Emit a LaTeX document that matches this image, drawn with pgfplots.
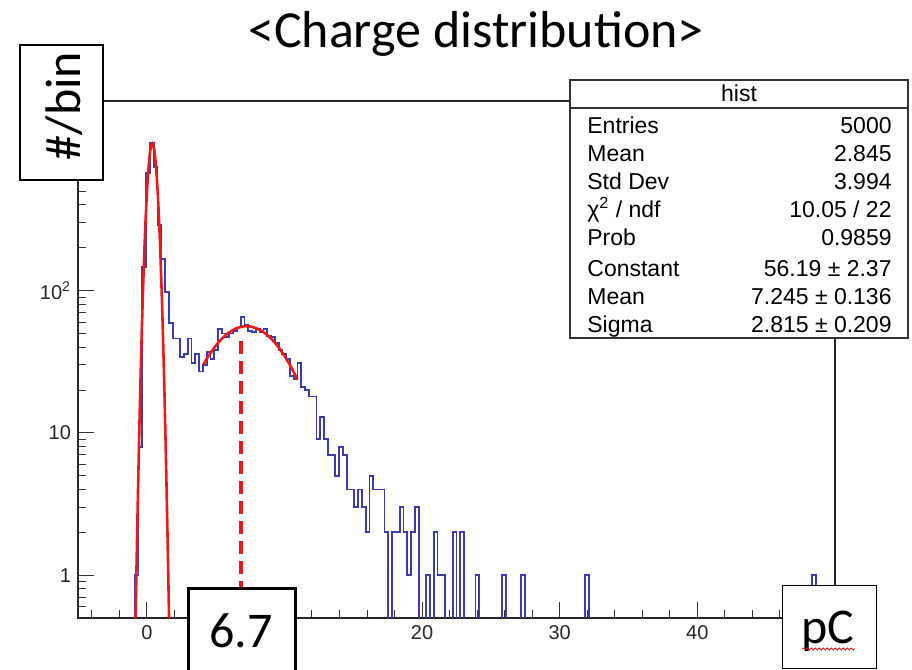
\documentclass[border=0pt]{standalone}
\usepackage{pgfplots}
\pgfplotsset{compat=1.18}
\usepackage{fontspec}
\setmainfont{Liberation Sans}
\newfontfamily\calibri{Carlito}
\usetikzlibrary{decorations.pathmorphing}
\definecolor{histblue}{RGB}{60,60,175}
\definecolor{fitred}{RGB}{235,25,25}
\newcommand{\statfont}{\fontsize{11.5}{13}\selectfont}
\newcommand{\bigfont}{\calibri\fontsize{25}{28}\selectfont}

\begin{document}
\begin{tikzpicture}
\useasboundingbox (0pt,0pt) rectangle (456pt,335pt);
\begin{axis}[
  at={(39pt,26pt)}, anchor=south west,
  scale only axis, width=378.5pt, height=258.5pt,
  xmin=-5, xmax=50, ymode=log, ymin=0.5, ymax=2150,
  axis line style={black!85, line width=0.6pt},
  tick align=inside, tick pos=left,
  major tick length=8pt, minor tick length=4pt,
  tick style={black!80, line width=0.5pt},
  xtick={0,10,20,30,40,50}, xticklabels={0,,20,30,40,},
  minor xtick={-4,-2,...,48},
  ytick={1,10,100,1000}, yticklabels={1,10,10\textsuperscript{2},},
  minor ytick={0.5,0.6,0.7,0.8,0.9,2,3,4,5,6,7,8,9,20,30,40,50,60,70,80,90,200,300,400,500,600,700,800,900,2000},
  ticklabel style={font=\fontsize{10}{11}\selectfont, text=black!85},
]
% histogram: left bin edge, count (bin width 0.275 pC; 0.1 = empty bin)
\addplot[histblue, line width=0.9pt, const plot mark left, mark=none] coordinates {
(-1.15,0.1) (-0.875,1) (-0.6,8) (-0.325,146) (-0.05,670) (0.225,1097) (0.5,741)
(0.775,290) (1.05,167) (1.325,98) (1.6,59) (1.875,46) (2.15,46) (2.425,34) (2.7,36)
(2.975,46) (3.25,31) (3.525,36) (3.8,27) (4.075,30) (4.35,37) (4.625,33) (4.9,38)
(5.175,54) (5.45,50) (5.725,47) (6.0,50) (6.275,52) (6.55,55) (6.825,65) (7.1,57)
(7.375,52) (7.65,51) (7.925,54) (8.2,51) (8.475,54) (8.75,48) (9.025,47) (9.3,43)
(9.575,38) (9.85,36) (10.125,33) (10.4,25) (10.675,24) (10.95,31) (11.225,21)
(11.5,20) (11.775,18) (12.05,18) (12.325,9) (12.6,13) (12.875,9) (13.15,7) (13.425,7)
(13.7,5) (13.975,8) (14.25,7) (14.525,4) (14.8,4) (15.075,3) (15.35,4) (15.625,3)
(15.9,2) (16.175,5) (16.45,4) (16.725,4) (17.0,4) (17.275,2) (17.55,0.1) (17.825,2)
(18.1,2) (18.375,3) (18.65,2) (18.925,1) (19.2,2) (19.475,3) (19.75,0.1) (20.3,1)
(20.575,0.1) (20.85,2) (21.125,1) (21.4,1) (21.675,0.1) (22.225,2) (22.5,0.1)
(22.775,2) (23.05,0.1) (23.875,1) (24.15,0.1) (25.8,1) (26.075,0.1) (27.175,1)
(27.45,0.1) (31.85,1) (32.125,0.1) (48.35,1) (48.625,0.1) (50,0.1)
};
% pedestal fit
\addplot[fitred, line width=1.3pt, smooth] coordinates {
(-0.85,0.32) (-0.75,1.11) (-0.65,3.50) (-0.55,9.91) (-0.45,25.3) (-0.35,58.1)
(-0.25,120.4) (-0.15,224.9) (-0.05,378.3) (0.05,573.6) (0.15,783.8) (0.25,965.1)
(0.35,1071) (0.40,1085) (0.45,1071) (0.55,965.1) (0.65,783.8) (0.75,573.6)
(0.85,378.3) (0.95,224.9) (1.05,120.4) (1.15,58.1) (1.25,25.3) (1.35,9.91)
(1.45,3.50) (1.55,1.11) (1.65,0.32)
};
% signal fit
\addplot[fitred, line width=1.3pt, smooth] coordinates {
(4.1,30.10) (4.5,34.93) (5.0,40.88) (5.5,46.37) (6.0,50.95) (6.5,54.26) (7.0,55.98)
(7.245,56.19) (7.5,55.96) (8.0,54.21) (8.5,50.87) (9.0,46.27) (9.5,40.77)
(10.0,34.81) (10.5,28.80) (10.95,23.63)
};
% peak marker
\addplot[fitred, line width=2pt, dash pattern=on 6.5pt off 3.5pt] coordinates {(6.86,44.5) (6.86,0.45)};
\end{axis}

% title
\node[font=\calibri\fontsize{26}{28}\selectfont, anchor=base] at (238pt,311pt) {<Charge distribution>};

% y label box
\draw[fill=white, line width=0.6pt] (10pt,245pt) rectangle (51.5pt,312.5pt);
\node[font=\bigfont, rotate=90, anchor=base] at (40.5pt,282pt) {\#/bin};

% stats box
\draw[fill=white, draw=black!80, line width=0.6pt] (285pt,166pt) rectangle (454pt,295pt);
\draw[line width=0.6pt, black!80] (285pt,281pt) -- (454pt,281pt);
\begin{scope}[every node/.style={font=\statfont, inner sep=0pt}]
\node[anchor=base] at (369.5pt,284pt) {hist};
\node[anchor=base west] at (293.5pt,268.4pt) {Entries};
\node[anchor=base east] at (446pt,268.4pt) {5000};
\node[anchor=base west] at (293.5pt,254.4pt) {Mean};
\node[anchor=base east] at (446pt,254.4pt) {2.845};
\node[anchor=base west] at (293.5pt,240.4pt) {Std Dev};
\node[anchor=base east] at (446pt,240.4pt) {3.994};
\node[anchor=base west] at (293.5pt,226.4pt) {χ\textsuperscript{2} / ndf};
\node[anchor=base east] at (446pt,226.4pt) {10.05 / 22};
\node[anchor=base west] at (293.5pt,212.4pt) {Prob};
\node[anchor=base east] at (446pt,212.4pt) {0.9859};
\node[anchor=base west] at (293.5pt,196.9pt) {Constant};
\node[anchor=base east] at (446pt,196.9pt) {56.19 ± 2.37};
\node[anchor=base west] at (293.5pt,182.9pt) {Mean};
\node[anchor=base east] at (446pt,182.9pt) {7.245 ± 0.136};
\node[anchor=base west] at (293.5pt,168.9pt) {Sigma};
\node[anchor=base east] at (446pt,168.9pt) {2.815 ± 0.209};
\end{scope}

% value box
\draw[fill=white, line width=1.5pt] (94pt,40.5pt) rectangle (147.5pt,-5pt);
\node[font=\bigfont, anchor=base] at (120.5pt,11pt) {6.7};

% unit box
\draw[fill=white, line width=0.6pt] (391.3pt,0.9pt) rectangle (438.3pt,42.2pt);
\node[font=\bigfont, anchor=base] at (414pt,13pt) {pC};
\draw[fitred, line width=0.4pt, decorate, decoration={snake, amplitude=0.5pt, segment length=2pt}] (401pt,10.5pt) -- (427.5pt,10.5pt);
\end{tikzpicture}
\end{document}
